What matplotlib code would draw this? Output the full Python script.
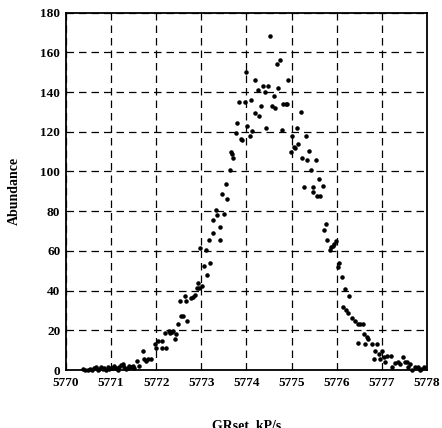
import numpy as np
import matplotlib.pyplot as plt

# GRset values (kP/s) and abundance
grset = [
    5770.38, 5770.43, 5770.48, 5770.53, 5770.59, 5770.63, 5770.67, 5770.71,
    5770.74, 5770.78, 5770.82, 5770.85, 5770.89, 5770.93, 5770.96, 5771.00,
    5771.03, 5771.07, 5771.11, 5771.15, 5771.18, 5771.22, 5771.26, 5771.29,
    5771.33, 5771.37, 5771.40, 5771.44, 5771.48, 5771.52, 5771.57, 5771.63,
    5771.70, 5771.74, 5771.78, 5771.82, 5771.89, 5771.98, 5771.99, 5772.05,
    5772.12, 5772.12, 5772.19, 5772.21, 5772.28, 5772.31, 5772.35, 5772.38,
    5772.41, 5772.45, 5772.48, 5772.53, 5772.56, 5772.60, 5772.63, 5772.67,
    5772.69, 5772.78, 5772.82, 5772.86, 5772.90, 5772.92, 5772.96, 5772.98,
    5773.02, 5773.05, 5773.10, 5773.13, 5773.18, 5773.20, 5773.25, 5773.27,
    5773.33, 5773.35, 5773.41, 5773.42, 5773.47, 5773.50, 5773.55, 5773.57,
    5773.63, 5773.65, 5773.68, 5773.71, 5773.76, 5773.79, 5773.84, 5773.89,
    5773.91, 5773.96, 5773.99, 5774.01, 5774.07, 5774.11, 5774.13, 5774.19,
    5774.20, 5774.26, 5774.28, 5774.33, 5774.36, 5774.41, 5774.43, 5774.48,
    5774.52, 5774.56, 5774.61, 5774.63, 5774.68, 5774.70, 5774.74, 5774.78,
    5774.81, 5774.87, 5774.90, 5774.93, 5774.98, 5775.00, 5775.05, 5775.07,
    5775.13, 5775.15, 5775.20, 5775.24, 5775.27, 5775.32, 5775.34, 5775.39,
    5775.42, 5775.47, 5775.48, 5775.54, 5775.56, 5775.61, 5775.63, 5775.69,
    5775.72, 5775.76, 5775.79, 5775.85, 5775.88, 5775.92, 5775.95, 5775.99,
    5776.04, 5776.06, 5776.11, 5776.13, 5776.19, 5776.21, 5776.26, 5776.28,
    5776.35, 5776.41, 5776.47, 5776.48, 5776.52, 5776.58, 5776.61, 5776.63,
    5776.67, 5776.70, 5776.78, 5776.83, 5776.85, 5776.90, 5776.93, 5776.95,
    5777.00, 5777.04, 5777.07, 5777.12, 5777.20, 5777.22, 5777.30, 5777.35,
    5777.41, 5777.47, 5777.52, 5777.56, 5777.59, 5777.63, 5777.67, 5777.74,
    5777.80, 5777.84, 5777.87, 5777.93,
]
abundance = [
    0.5, 0, 0, 0.5, 0, 1, 1.5, 0,
    0.5, 1.5, 0.5, 1, 0, 1.5, 0.5, 1,
    1, 2, 1, 0, 1.5, 2.5, 3, 1.5,
    0.5, 1, 2, 1.5, 2, 1, 4.5, 2,
    9.5, 5.5, 4.5, 5.7, 5.7, 13, 11, 14.5,
    14.5, 11, 18.5, 11, 19.5, 18.5, 19, 19.6,
    15.7, 18, 23, 35, 27, 27, 37.5, 35,
    24.6, 36.4, 37, 38, 41.4, 44, 41.4, 61.5,
    42.5, 52.6, 60.6, 47.6, 65.7, 54, 69, 75.7,
    80.7, 78, 72, 65.7, 88.8, 78.6, 93.8, 86,
    100.7, 110, 109, 106.6, 119.5, 124.2, 134.8, 116.6,
    115.8, 134.8, 150.3, 123, 117.8, 136, 120.5, 129.2,
    146, 141, 128, 133, 143.2, 139.8, 122, 143.2,
    168.2, 133, 138.2, 132, 154, 142.2, 156.1, 120.8,
    133.8, 133.8, 133.8, 146, 110, 117.8, 112.4, 111.6,
    121.9, 113.8, 129.7, 106.6, 92, 117.8, 106, 110.4,
    100.7, 89.8, 92, 106, 87.6, 96, 87.6, 92.6,
    70.7, 73.7, 65.7, 60.6, 61.9, 62.6, 63.7, 64.8,
    52, 54, 46.7, 31.8, 40.9, 30, 28.8, 37.5,
    26, 24.6, 23, 13.4, 23, 23, 17.9, 12.9,
    16.8, 15.7, 12.9, 5.7, 9.5, 12.9, 7.9, 5.7,
    9.5, 6.7, 4, 7, 7, 1.7, 3.7, 4,
    2.8, 6.7, 4, 4, 1.7, 2.8, 0, 1.7,
    1.7, 0, 0.7, 1.7,
]

x_ticks = np.arange(5770, 5779, 1)
y_ticks = np.arange(0, 181, 20)

plt.rcParams['font.family'] = ['Liberation Serif', 'DejaVu Serif']
plt.rcParams['font.weight'] = 'bold'

fig = plt.figure(figsize=(4.42, 4.28), dpi=100)
ax = fig.add_axes([0.149, 0.1355, 0.817, 0.835])

ax.scatter(grset, abundance, s=5, c='black', zorder=3, clip_on=False)

ax.set_xlim(5770, 5778)
ax.set_ylim(0, 180)
ax.set_xticks(x_ticks)
ax.set_yticks(y_ticks)
ax.ticklabel_format(useOffset=False, style='plain')
ax.tick_params(labelsize=9.5, length=0)
ax.tick_params(axis='x', pad=5)
ax.tick_params(axis='y', pad=4)
for lab in ax.get_xticklabels() + ax.get_yticklabels():
    lab.set_fontweight('bold')

ax.grid(True, color='black', linestyle=(0, (6, 4)), linewidth=0.9)
for sp in ax.spines.values():
    sp.set_linewidth(1.3)

ax.set_xlabel('GRset, kP/s', fontsize=10, fontweight='bold', labelpad=22)
ax.set_ylabel('Abundance', fontsize=10, fontweight='bold', labelpad=14)

fig.savefig('out.png', dpi=100)
